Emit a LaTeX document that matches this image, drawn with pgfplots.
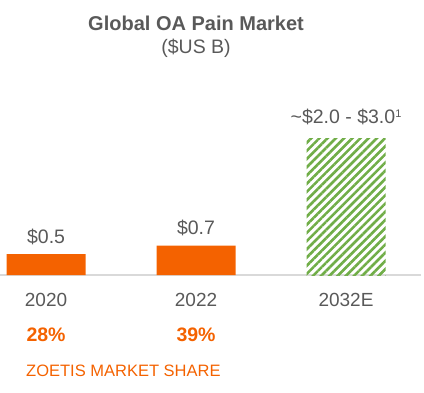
\documentclass[border=0pt]{standalone}
\usepackage{fontspec}
\setmainfont{Liberation Sans}
\usepackage{pgfplots}
\pgfplotsset{compat=1.18}
\usetikzlibrary{patterns.meta}
\definecolor{zorange}{HTML}{F46200}
\definecolor{zgreen}{HTML}{70AD47}
\definecolor{txtgray}{HTML}{595959}
\definecolor{axgray}{HTML}{D9D9D9}
\newcommand{\supone}{\raisebox{6pt}{\fontsize{11}{12}\selectfont 1}}
\begin{document}
\begin{tikzpicture}
\useasboundingbox (0,-117pt) rectangle (424pt,275pt);
\begin{axis}[
  at={(0,0)}, anchor=south west,
  scale only axis,
  width=421pt, height=275pt,
  xmin=-0.307, xmax=2.5,
  ymin=0, ymax=6.548,
  ybar, bar width=79pt, bar shift=0pt,
  axis x line*=bottom,
  hide y axis,
  x axis line style={-, draw=axgray, line width=1.2pt},
  xtick={0,1,2},
  xticklabels={2020,2022,2032E},
  major tick length=0pt,
  xticklabel style={anchor=base, yshift=-31pt, font=\fontsize{19}{22}\selectfont, text=txtgray, inner sep=0pt},
  clip=false,
  point meta=explicit symbolic,
  nodes near coords,
  every node near coord/.append style={anchor=base, yshift=11pt, inner sep=0pt, font=\fontsize{19.5}{22}\selectfont, text=txtgray},
]
\addplot[draw=none, fill=zorange] coordinates {(0,0.5) [\$0.5] (1,0.7) [\$0.7]};
\addplot[draw=none, pattern={Lines[angle=45, distance=5.8pt, line width=2.6pt]}, pattern color=zgreen,
  every node near coord/.append style={yshift=4pt}]
  coordinates {(2,3.25) [\textasciitilde\$2.0 - \$3.0\supone]};
\node[anchor=base, inner sep=0pt, font=\bfseries\fontsize{20}{24}\selectfont, text=txtgray] at ([yshift=245pt]axis cs:1,0) {Global OA Pain Market};
\node[anchor=base, inner sep=0pt, font=\fontsize{19.5}{24}\selectfont, text=txtgray] at ([yshift=222pt]axis cs:1,0) {(\$US B)};
\node[anchor=base, inner sep=0pt, font=\bfseries\fontsize{19.5}{24}\selectfont, text=zorange] at ([yshift=-66pt]axis cs:0,0) {28\%};
\node[anchor=base, inner sep=0pt, font=\bfseries\fontsize{19.5}{24}\selectfont, text=zorange] at ([yshift=-66pt]axis cs:1,0) {39\%};
\end{axis}
\node[anchor=base west, inner sep=0pt, font=\fontsize{16.5}{20}\selectfont, text=zorange] at (26pt,-101pt) {ZOETIS MARKET SHARE};
\end{tikzpicture}
\end{document}
